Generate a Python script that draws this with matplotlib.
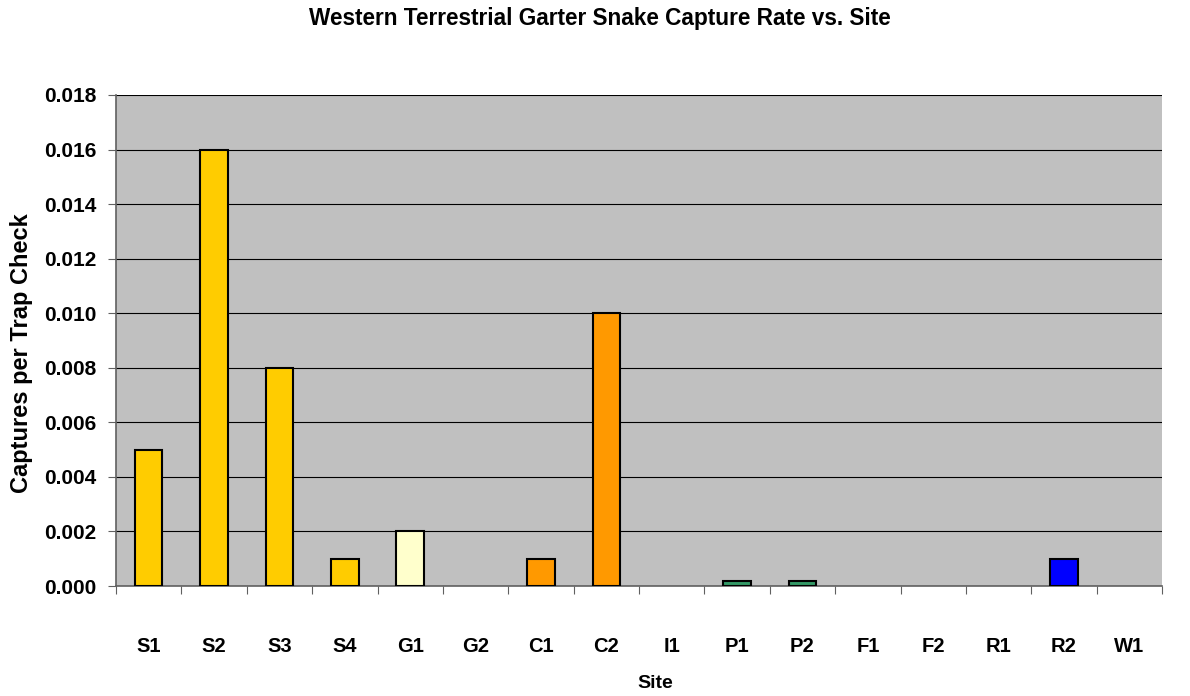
import matplotlib
matplotlib.use("Agg")
import matplotlib.pyplot as plt
import numpy as np

sites = ["S1", "S2", "S3", "S4", "G1", "G2", "C1", "C2", "I1", "P1", "P2", "F1", "F2", "R1", "R2", "W1"]
rates = [0.005, 0.016, 0.008, 0.001, 0.002, 0.0, 0.001, 0.010, 0.0, 0.0002, 0.0002, 0.0, 0.0, 0.0, 0.001, 0.0]
colors = ["#FFCC00", "#FFCC00", "#FFCC00", "#FFCC00", "#FFFFCC", "#FFFFCC", "#FF9900", "#FF9900",
          "#CCCCCC", "#339966", "#339966", "#339966", "#339966", "#0000FF", "#0000FF", "#0000FF"]
yticks = [0.000, 0.002, 0.004, 0.006, 0.008, 0.010, 0.012, 0.014, 0.016, 0.018]

plt.rcParams['font.family'] = ['Liberation Sans', 'DejaVu Sans']
fig = plt.figure(figsize=(11.9, 6.96), dpi=100)
ax = fig.add_axes([116/1190, 1-586/696, (1162-116)/1190, (586-95)/696])
ax.set_facecolor("#C0C0C0")

x = np.arange(len(sites))
for xi, v, c in zip(x, rates, colors):
    if v > 0:
        ax.bar(xi, v, width=0.42, color=c, edgecolor="black", linewidth=1.5, zorder=3)

ax.set_xlim(-0.5, len(sites) - 0.5)
ax.set_ylim(0, 0.018)
ax.set_yticks(yticks)
ax.set_yticklabels([f"{t:.3f}" for t in yticks], fontsize=15, fontweight="bold")
ax.yaxis.grid(True, color="black", linewidth=0.8, zorder=1)
ax.set_axisbelow(True)

ax.set_xticks(np.arange(len(sites) + 1) - 0.5)
ax.set_xticklabels([])
ax.set_xticks(x, minor=True)
ax.set_xticklabels(sites, minor=True, fontsize=14.5, fontweight="bold")
ax.tick_params(axis="x", which="minor", length=0, pad=37)
ax.tick_params(axis="x", which="major", length=6, color="#606060", direction="out")
ax.tick_params(axis="y", length=6, color="#606060", direction="out", pad=8)

for s in ["top", "right"]:
    ax.spines[s].set_visible(False)
ax.spines["left"].set_color("#606060")
ax.spines["bottom"].set_color("#606060")
ax.spines["left"].set_linewidth(1.2)
ax.spines["bottom"].set_linewidth(1.2)

fig.text(655/1190, 1-684/696, "Site", fontsize=14, fontweight="bold", ha="center", va="center")
fig.text(22/1190, 1-353/696, "Captures per Trap Check", fontsize=17, fontweight="bold",
         ha="center", va="center", rotation=90)
fig.text(600/1190, 1-19/696, "Western Terrestrial Garter Snake Capture Rate vs. Site",
         fontsize=16.3, fontweight="bold", ha="center", va="center")

fig.savefig("out.png", dpi=100)
